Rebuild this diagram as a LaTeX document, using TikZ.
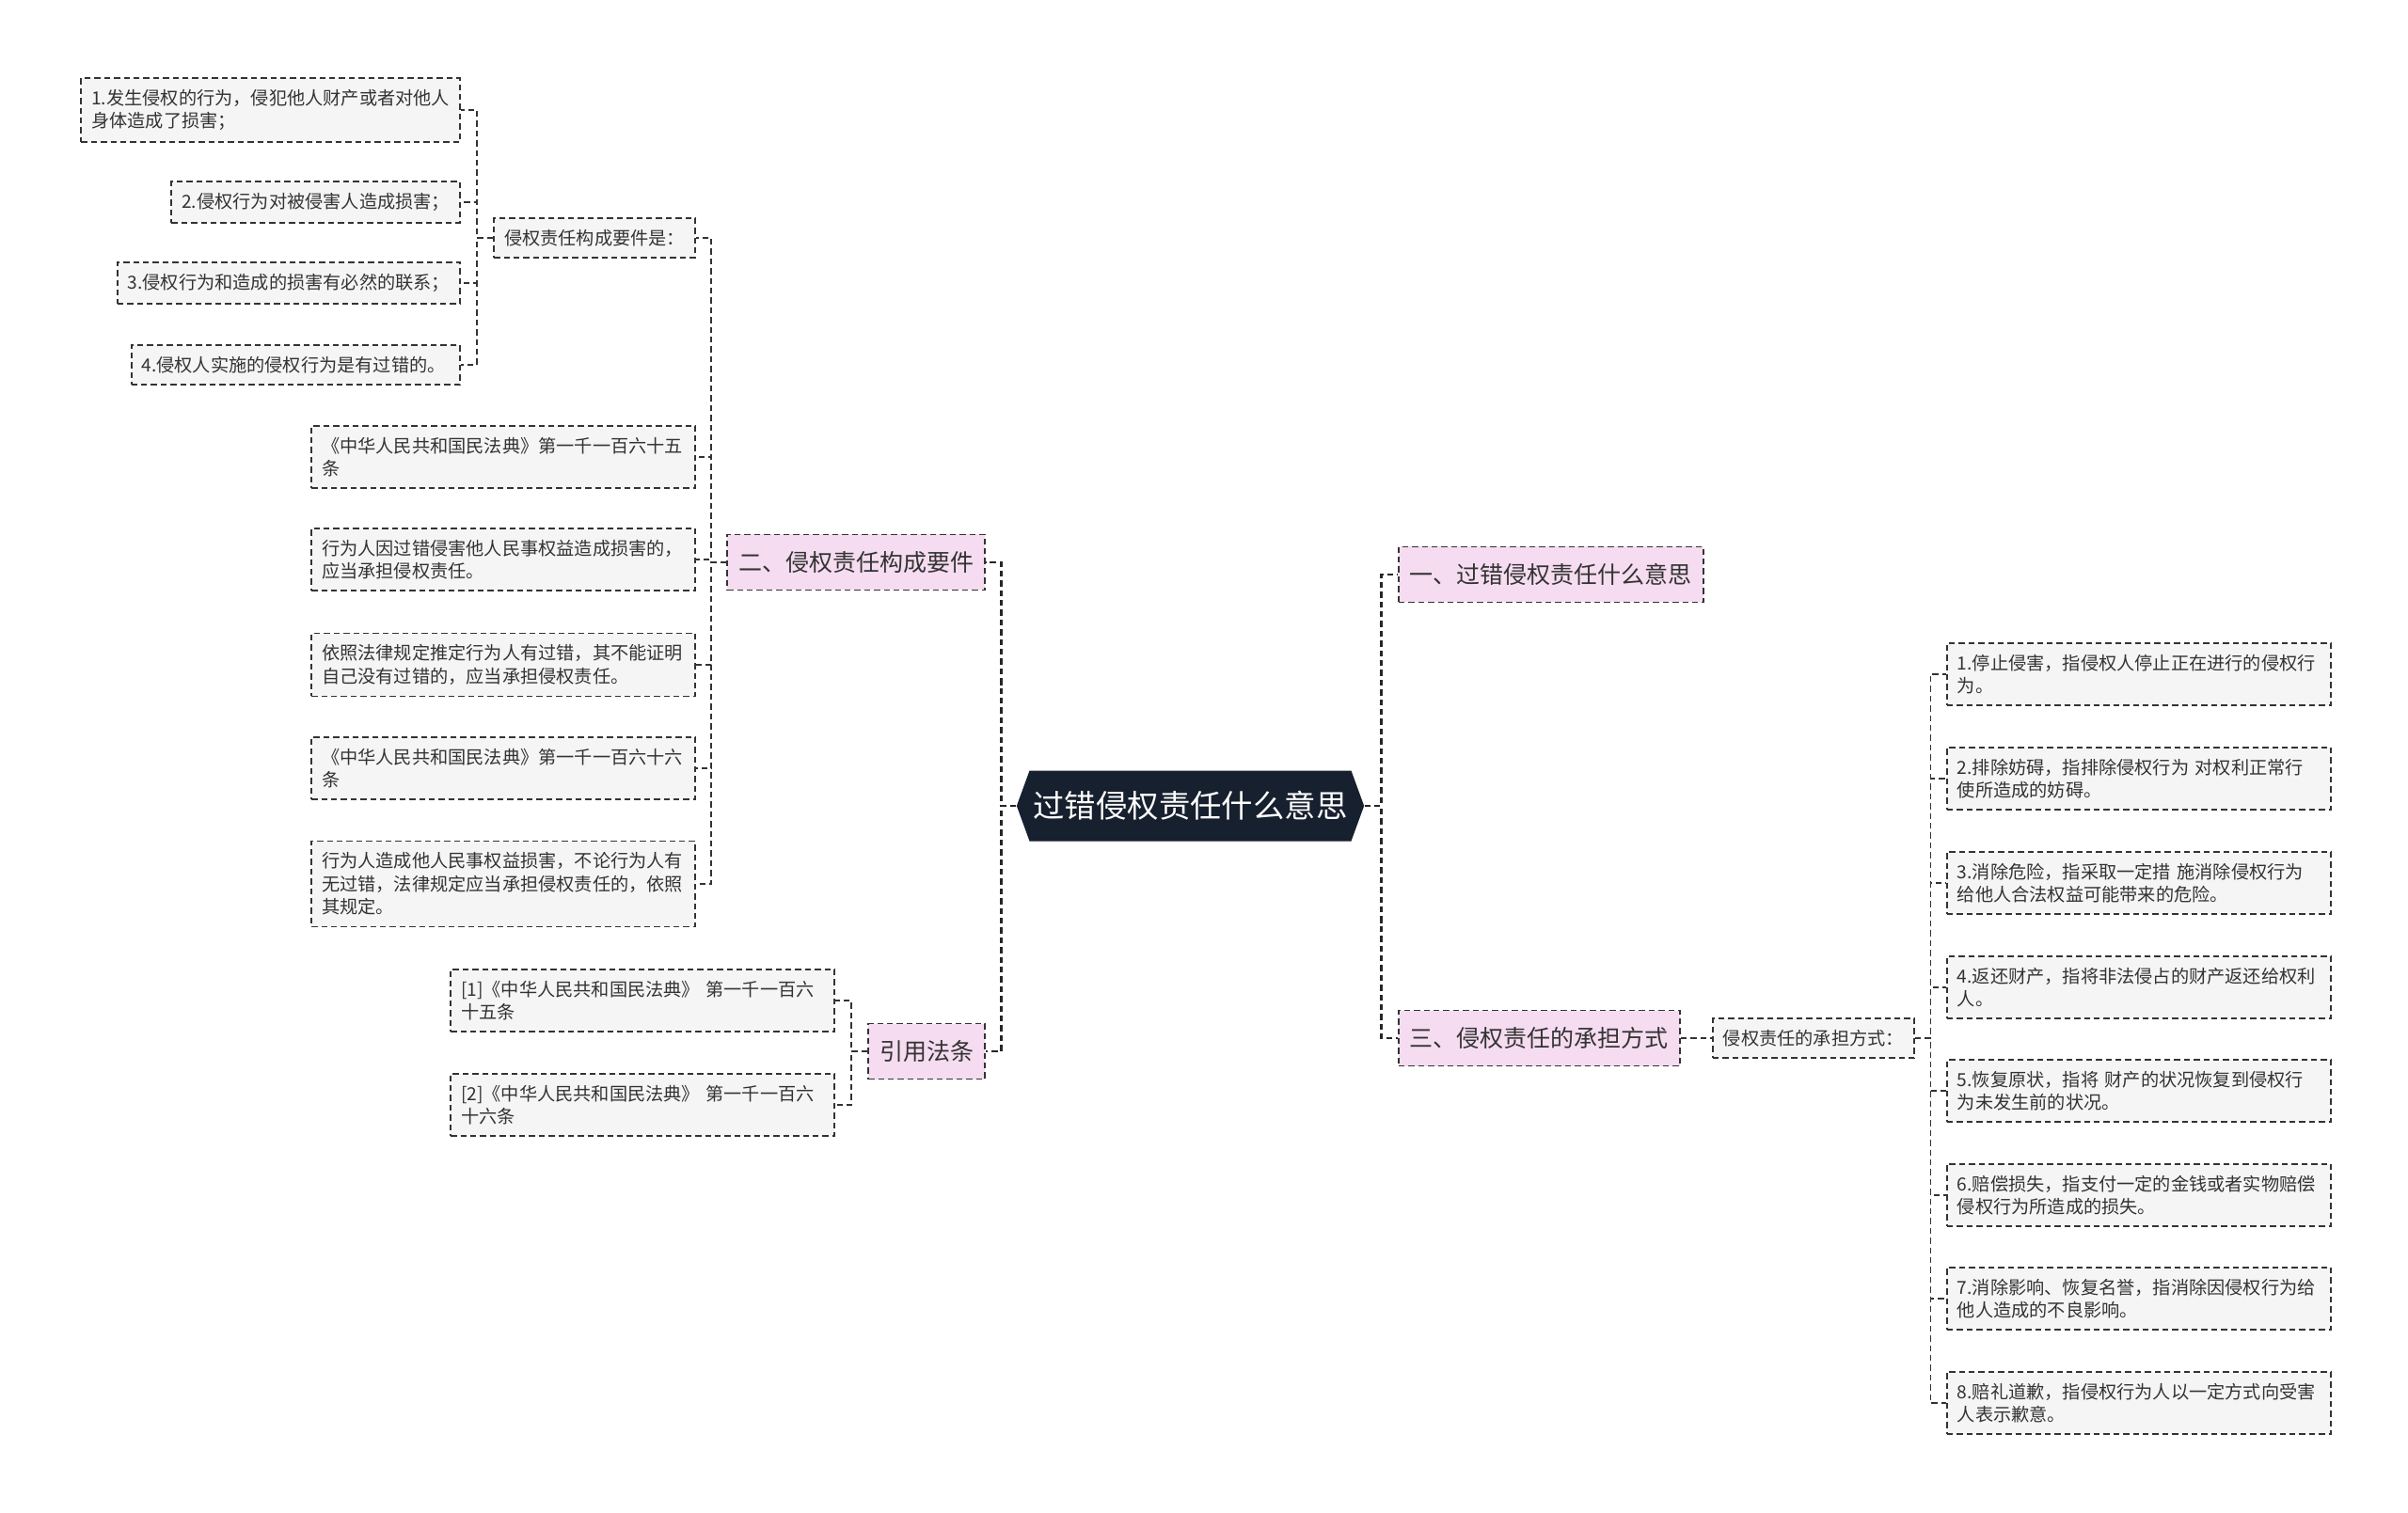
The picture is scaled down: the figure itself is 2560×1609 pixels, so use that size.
\documentclass[tikz,border=0pt]{standalone}
\usepackage{fontspec}
\setmainfont{Noto Sans CJK SC}
\usetikzlibrary{
  calc,
  shapes.symbols
}
\definecolor{ink}{HTML}{333333}
\definecolor{rootfill}{HTML}{17202E}
\definecolor{topicfill}{HTML}{F5DCF0}
\definecolor{leaffill}{HTML}{F5F5F5}
\tikzset{
  link/.style={
    draw=ink,
    line width=0.85pt,
    dash pattern=on 3.2pt off 2pt
  },
  mainlink/.style={
    link,
    draw=black!85,
    line width=1.3pt
  },
  elbow/.style={
    to path={-| ($(\tikztostart)!.5!(\tikztotarget)$) |- (\tikztotarget)}
  },
  rootnode/.style={
    signal,
    signal to=west and east,
    signal pointer angle=140,
    fill=rootfill,
    text=white,
    minimum width=180.5pt,
    minimum height=37.5pt,
    inner xsep=2pt,
    font=\fontsize{16.7}{20}\selectfont
  },
  topic/.style={
    draw=ink,
    fill=topicfill,
    line width=0.9pt,
    dash pattern=on 3.2pt off 2pt,
    text=ink,
    minimum height=29.5pt,
    inner xsep=6pt,
    font=\fontsize{12.5}{15}\selectfont
  },
  leaf/.style={
    draw=ink,
    fill=leaffill,
    line width=0.9pt,
    dash pattern=on 3.2pt off 2pt,
    text=ink,
    align=left,
    inner xsep=5.5pt,
    inner ysep=6pt,
    font=\fontsize{9.6}{12.25}\selectfont
  },
  wideleaf/.style={
    leaf,
    text width=193pt
  }
}

\begin{document}
\begin{tikzpicture}[x=0.5pt, y=-0.5pt]
  \useasboundingbox (0,0) rectangle (2560,1609);

  % centre
  \node[rootnode] (root) at (1265.5,857) {过错侵权责任什么意思};

  % right side
  \node[topic, anchor=west] (meaning) at (1486,611) {一、过错侵权责任什么意思};
  \node[topic, anchor=west] (ways) at (1486,1104) {三、侵权责任的承担方式};
  \node[leaf, anchor=west] (waylist) at (1820,1104) {侵权责任的承担方式：};
  \foreach \i/\y/\txt in {
    1/717/{1.停止侵害，指侵权人停止正在进行的侵权行\\为。},
    2/828/{2.排除妨碍，指排除侵权行为 对权利正常行\\使所造成的妨碍。},
    3/939/{3.消除危险，指采取一定措 施消除侵权行为\\给他人合法权益可能带来的危险。},
    4/1050/{4.返还财产，指将非法侵占的财产返还给权利\\人。},
    5/1160/{5.恢复原状，指将 财产的状况恢复到侵权行\\为未发生前的状况。},
    6/1271/{6.赔偿损失，指支付一定的金钱或者实物赔偿\\侵权行为所造成的损失。},
    7/1381/{7.消除影响、恢复名誉，指消除因侵权行为给\\他人造成的不良影响。},
    8/1492/{8.赔礼道歉，指侵权行为人以一定方式向受害\\人表示歉意。}
  }{
    \node[wideleaf, anchor=west] (way\i) at (2069,\y) {\txt};
    \draw[link] (waylist.east) to[elbow] (way\i.west);
  }
  \draw[mainlink] (root.east) to[elbow] (meaning.west);
  \draw[mainlink] (root.east) to[elbow] (ways.west);
  \draw[link] (ways.east) -- (waylist.west);

  % left side
  \node[topic, anchor=east] (elements) at (1048,598) {二、侵权责任构成要件};
  \node[topic, anchor=east] (laws) at (1048,1118) {引用法条};
  \draw[mainlink] (root.west) to[elbow] (elements.east);
  \draw[mainlink] (root.west) to[elbow] (laws.east);

  \node[leaf, anchor=east] (req) at (740,253) {侵权责任构成要件是：};
  \draw[link] (elements.west) to[elbow] (req.east);
  \foreach \i/\y/\txt in {
    1/117/{1.发生侵权的行为，侵犯他人财产或者对他人\\身体造成了损害；},
    2/215/{2.侵权行为对被侵害人造成损害；},
    3/301/{3.侵权行为和造成的损害有必然的联系；},
    4/388/{4.侵权人实施的侵权行为是有过错的。}
  }{
    \node[leaf, anchor=east] (req\i) at (490,\y) {\txt};
    \draw[link] (req.west) to[elbow] (req\i.east);
  }

  \foreach \i/\y/\txt in {
    1/486/{《中华人民共和国民法典》第一千一百六十五\\条},
    2/595/{行为人因过错侵害他人民事权益造成损害的，\\应当承担侵权责任。},
    3/707/{依照法律规定推定行为人有过错，其不能证明\\自己没有过错的，应当承担侵权责任。},
    4/817/{《中华人民共和国民法典》第一千一百六十六\\条},
    5/940/{行为人造成他人民事权益损害，不论行为人有\\无过错，法律规定应当承担侵权责任的，依照\\其规定。}
  }{
    \node[wideleaf, anchor=east] (rule\i) at (740,\y) {\txt};
    \draw[link] (elements.west) to[elbow] (rule\i.east);
  }

  \foreach \i/\y/\txt in {
    1/1064/{[1]《中华人民共和国民法典》 第一千一百六\\十五条},
    2/1175/{[2]《中华人民共和国民法典》 第一千一百六\\十六条}
  }{
    \node[wideleaf, anchor=east] (ref\i) at (888,\y) {\txt};
    \draw[link] (laws.west) to[elbow] (ref\i.east);
  }
\end{tikzpicture}
\end{document}
